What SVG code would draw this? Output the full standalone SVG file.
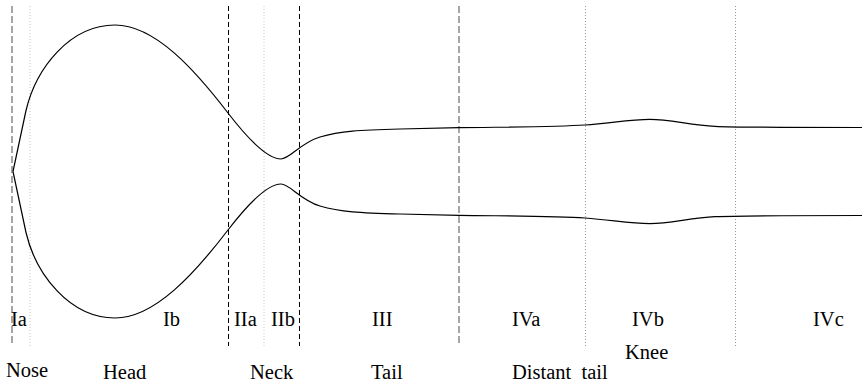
<svg xmlns="http://www.w3.org/2000/svg" xmlns:xlink="http://www.w3.org/1999/xlink" width="862" height="383" viewBox="0 0 862 383">
<style>
.bg{fill:#fff}
.curve{fill:none;stroke:#000;stroke-width:1.2}
.vg{stroke:#808080;stroke-width:1.4;stroke-dasharray:7,3;fill:none}
.vb{stroke:#000;stroke-width:1;stroke-dasharray:5,3;fill:none}
.vl{stroke:#c8c8c8;stroke-width:1;stroke-dasharray:1,2;fill:none}
.vd{stroke:#999;stroke-width:1;stroke-dasharray:1,2;fill:none}
text{font-family:"Liberation Serif","Times New Roman",serif;font-size:20.5px;fill:#000;white-space:pre}
</style>
<rect class="bg" x="0" y="0" width="862" height="383"/>
<g id="dividers">
<line class="vg" x1="12" y1="6" x2="12" y2="346"/>
<line class="vl" x1="30" y1="6" x2="30" y2="346"/>
<line class="vb" x1="228.5" y1="6" x2="228.5" y2="346"/>
<line class="vl" x1="264" y1="6" x2="264" y2="346"/>
<line class="vb" x1="299.5" y1="6" x2="299.5" y2="346"/>
<line class="vg" x1="459" y1="6" x2="459" y2="346"/>
<line class="vd" x1="585.5" y1="6" x2="585.5" y2="346"/>
<line class="vd" x1="735.5" y1="6" x2="735.5" y2="346"/>
</g>
<g id="profile">
<path id="upper" class="curve" d="M13,171.5 L26,110.5 C36,68 70,25 115,25 C155,25 195,70 228,113 C248,139 268,159 281,159 C290,159 300,143 320,137 C340,131 360,130 400,129 C420,128.5 440,128 459,127.7 C500,127 555,127 585,125 C612,123 630,119.3 650,119.3 C670,119.3 690,125 715,126.3 C735,127.3 780,127.5 862,127.5"/>
<use id="lower" xlink:href="#upper" transform="matrix(1,0,0,-1,0,343)"/>
</g>
<g id="region-labels">
<text x="11" y="326">Ia</text>
<text x="163" y="326">Ib</text>
<text x="234" y="326">IIa</text>
<text x="271" y="326">IIb</text>
<text x="372" y="326">III</text>
<text x="512" y="326">IVa</text>
<text x="632" y="326">IVb</text>
<text x="813" y="326">IVc</text>
</g>
<g id="part-labels">
<text x="6" y="376.7">Nose</text>
<text x="103" y="379">Head</text>
<text x="250" y="379">Neck</text>
<text x="371" y="379">Tail</text>
<text x="512" y="378.5" xml:space="preserve">Distant  tail</text>
<text x="625" y="359">Knee</text>
</g>
</svg>
